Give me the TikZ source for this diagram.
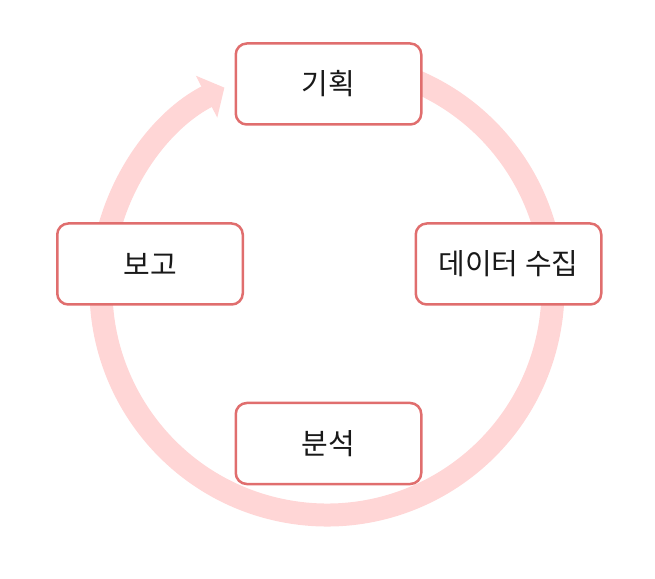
\documentclass[tikz,border=0pt]{standalone}
\usepackage{fontspec}
\setmainfont{Noto Sans CJK KR}
\usepackage{tikz}
\usetikzlibrary{arrows.meta}
\definecolor{ringpink}{RGB}{255,214,214}
\definecolor{boxred}{RGB}{224,110,110}

\begin{document}
\begin{tikzpicture}[x=1pt,y=1pt,
  every node/.style={font=\fontsize{29}{34}\selectfont},
  stage/.style={draw=boxred, line width=2.5pt, fill=white, rounded corners=11pt,
    minimum width=185.5pt, minimum height=81pt, text=black!90}]
\useasboundingbox (0,0) rectangle (655,578);
\coordinate (O) at (327,289);
\draw[ringpink, line width=23pt, -{Triangle[length=20pt,width=46pt]}]
  ([shift={(80:226)}]O) arc[start angle=80, end angle=-243, radius=226];
\node[stage] (plan)    at (328.5,494) {기획};
\node[stage] (collect) at (508.5,314) {데이터 수집};
\node[stage] (analyze) at (328.5,134.5) {분석};
\node[stage] (report)  at (150,314) {보고};
\end{tikzpicture}
\end{document}
